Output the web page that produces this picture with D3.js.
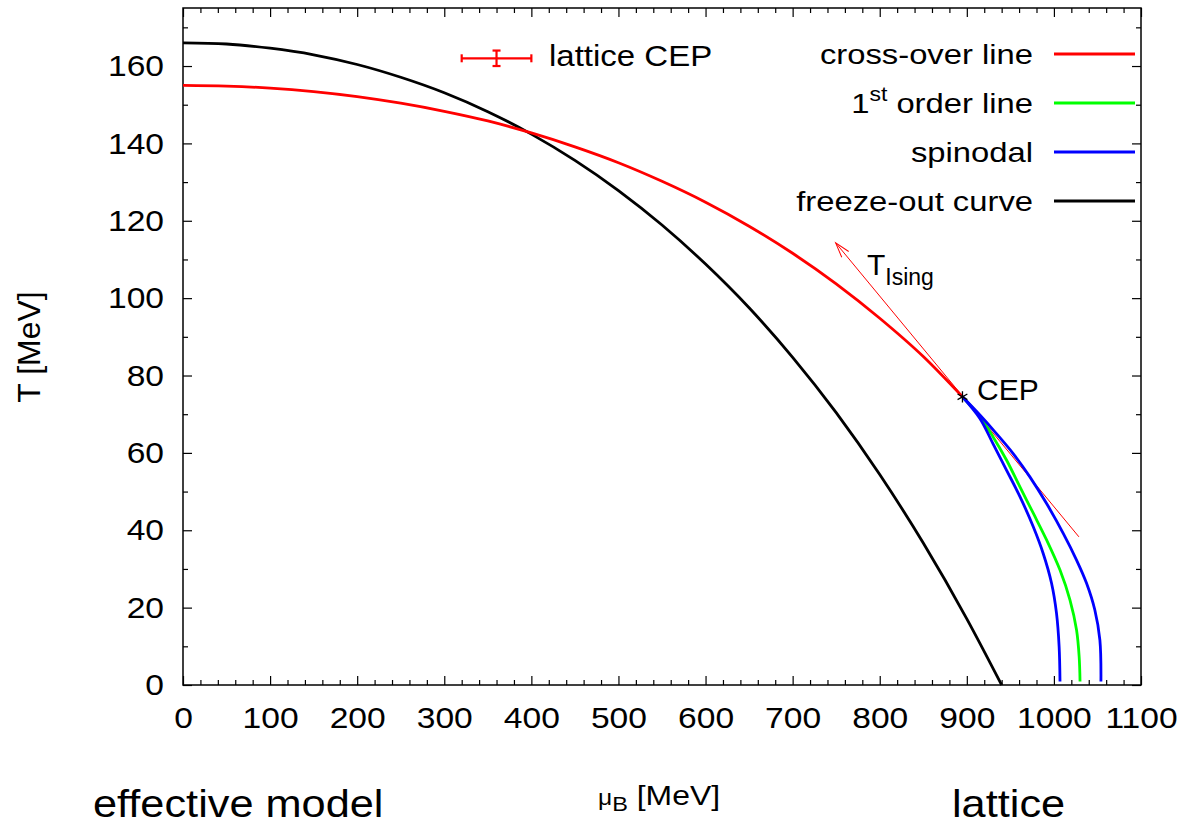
<!DOCTYPE html>
<html>
<head>
<meta charset="utf-8">
<script src="https://cdn.jsdelivr.net/npm/d3@7"></script>
<style>
  body { margin: 0; background: #fff; }
  svg text { font-family: "Liberation Sans", Arial, Helvetica, sans-serif; fill: #000; }
</style>
</head>
<body>
<div class="canvas"></div>
<script>
// values: [muB (MeV), T (MeV)]
let crossover = [
  [0, 155], [50, 154.8], [100, 154.3], [150, 153.4], [200, 152.1], [250, 150.4],
  [300, 148.3], [350, 145.8], [400, 142.7], [450, 139.1], [500, 135.0], [550, 130.2],
  [600, 124.8], [650, 118.6], [700, 111.6], [750, 103.7], [800, 94.8], [850, 84.9], [895, 74.5]
]
let firstOrder = [
  [895, 74.5], [915, 69.3], [930, 64.2], [945.7, 58.1], [961, 51.2], [976.3, 44.4],
  [991.6, 37.5], [1007, 29.7], [1018.4, 22.0], [1026, 14.2], [1029, 7.3], [1030, 0.9]
]
let spinodalLow = [
  [895, 74.5], [915, 68.9], [930, 62.4], [945.7, 55.5], [961, 48.7], [976.3, 40.9],
  [987.7, 34.0], [997.3, 26.3], [1003, 18.5], [1006, 9.9], [1007, 0.9]
]
let spinodalHigh = [
  [895, 74.5], [915, 69.8], [934, 65.0], [953, 59.9], [972.4, 53.8], [991.6, 46.9],
  [1010.7, 39.2], [1026, 32.3], [1037.5, 26.3], [1047, 19.4], [1052.8, 11.6], [1054, 0.9]
]
let freezeOut = [
  [0, 166], [50, 165.7], [100, 164.6], [150, 162.9], [200, 160.4], [250, 157.1],
  [300, 153.1], [350, 148.2], [400, 142.4], [450, 135.6], [500, 127.8], [550, 118.9],
  [600, 108.8], [650, 97.5], [700, 84.7], [750, 70.4], [800, 54.4], [850, 36.7],
  [900, 17.1], [940, 0]
]
let cep = [895, 74.5]
let latticeCep = { mu: 360, T: 162, dMu: 40, dT: 2 }
let isingArrow = [[1028.7, 38.3], [749.4, 114.3]]

let xMajor = [0, 100, 200, 300, 400, 500, 600, 700, 800, 900, 1000, 1100]
let yMajor = [0, 20, 40, 60, 80, 100, 120, 140, 160]
let xMinor = d3.range(0, 1101, 20).filter(v => v % 100 !== 0)
let yMinor = d3.range(10, 175, 20)

let legendItems = [
  { key: 'cross-over line', color: '#ff0000' },
  { key: '1st order line', color: '#00ff00' },
  { key: 'spinodal', color: '#0000ff' },
  { key: 'freeze-out curve', color: '#000000' }
]

///////////////////////
// SET UP
///////////////////////

let width = 1183,
    height = 825,
    plotLeft = 183, plotRight = 1141,
    plotTop = 8, plotBottom = 685,
    tickStretch = 1.12   // the original postscript font runs a bit wide

let svg = d3.select('.canvas').append('svg')
    .attr('width', width)
    .attr('height', height)

let x = d3.scaleLinear().domain([0, 1100]).range([plotLeft, plotRight])
let y = d3.scaleLinear().domain([0, 175]).range([plotBottom, plotTop])

// text placed at (tx, ty) and widened by sx
function label(tx, ty, size, sx, anchor) {
    return svg.append('text')
        .attr('transform', `translate(${tx},${ty}) scale(${sx},1)`)
        .attr('font-size', size)
        .attr('text-anchor', anchor || 'start')
}

///////////////////////
// AXES (gnuplot style, inward ticks on all sides)
///////////////////////

function addAxis(axisFn, scale, values, size, pos, labels) {
    let a = axisFn(scale).tickValues(values).tickSizeInner(-size).tickSizeOuter(0)
    if (labels) {
        a.tickPadding(axisFn === d3.axisBottom ? 22 : 19 / tickStretch).tickFormat(d3.format('d'))
    } else {
        a.tickFormat('')
    }
    let g = svg.append('g').attr('transform', pos).call(a)
    g.select('.domain').remove()
    g.selectAll('line').attr('stroke', '#000').attr('stroke-width', 1.2)
    g.selectAll('text')
        .attr('font-size', 30)
        .attr('transform', `scale(${tickStretch},1)`)
    g.attr('font-family', null).attr('font-size', null)
    return g
}

addAxis(d3.axisBottom, x, xMajor, 9, `translate(0,${plotBottom})`, true)
addAxis(d3.axisBottom, x, xMinor, 5, `translate(0,${plotBottom})`, false)
addAxis(d3.axisTop, x, xMajor, 9, `translate(0,${plotTop})`, false)
addAxis(d3.axisTop, x, xMinor, 5, `translate(0,${plotTop})`, false)
addAxis(d3.axisLeft, y, yMajor, 9, `translate(${plotLeft},0)`, true)
addAxis(d3.axisLeft, y, yMinor, 5, `translate(${plotLeft},0)`, false)
addAxis(d3.axisRight, y, yMajor, 9, `translate(${plotRight},0)`, false)
addAxis(d3.axisRight, y, yMinor, 5, `translate(${plotRight},0)`, false)

svg.append('rect')
    .attr('x', plotLeft).attr('y', plotTop)
    .attr('width', plotRight - plotLeft).attr('height', plotBottom - plotTop)
    .attr('fill', 'none').attr('stroke', '#000').attr('stroke-width', 1.5)

// axis labels
let xl = label(598, 805, 28.5, 1.12)
xl.append('tspan').attr('font-size', 22).text('μ')
xl.append('tspan').attr('font-size', 21).attr('dy', 6).text('B')
xl.append('tspan').attr('dy', -6).text(' [MeV]')

svg.append('text')
    .attr('transform', `translate(40,347) rotate(-90)`)
    .attr('text-anchor', 'middle')
    .attr('font-size', 32)
    .text('T [MeV]')

///////////////////////
// CURVES
///////////////////////

let line = d3.line()
    .x(d => x(d[0]))
    .y(d => y(d[1]))
    .curve(d3.curveMonotoneX)

// the 1st order line and spinodals bend round to vertical near T = 0
let lineT = d3.line()
    .x(d => x(d[0]))
    .y(d => y(d[1]))
    .curve(d3.curveCatmullRom.alpha(0.5))

let plot = svg.append('g')

plot.append('path').datum(freezeOut)
    .attr('d', line).attr('fill', 'none').attr('stroke', '#000').attr('stroke-width', 2.8)
plot.append('path').datum(crossover)
    .attr('d', line).attr('fill', 'none').attr('stroke', '#ff0000').attr('stroke-width', 2.8)

// T_Ising direction arrow
svg.append('defs').append('marker')
    .attr('id', 'head')
    .attr('markerUnits', 'userSpaceOnUse')
    .attr('viewBox', '-16 -6 18 12')
    .attr('markerWidth', 18).attr('markerHeight', 12)
    .attr('refX', 0).attr('refY', 0)
    .attr('orient', 'auto')
  .append('path')
    .attr('d', 'M-15,-4.5L0,0L-15,4.5')
    .attr('fill', 'none').attr('stroke', '#ff0000').attr('stroke-width', 1)

plot.append('line')
    .attr('x1', x(isingArrow[0][0])).attr('y1', y(isingArrow[0][1]))
    .attr('x2', x(isingArrow[1][0])).attr('y2', y(isingArrow[1][1]))
    .attr('stroke', '#ff0000').attr('stroke-width', 1)
    .attr('marker-end', 'url(#head)')

plot.append('path').datum(firstOrder)
    .attr('d', lineT).attr('fill', 'none').attr('stroke', '#00ff00').attr('stroke-width', 2.8)
plot.append('path').datum(spinodalLow)
    .attr('d', lineT).attr('fill', 'none').attr('stroke', '#0000ff').attr('stroke-width', 2.8)
plot.append('path').datum(spinodalHigh)
    .attr('d', lineT).attr('fill', 'none').attr('stroke', '#0000ff').attr('stroke-width', 2.8)

// CEP star
plot.append('path')
    .attr('d', d3.symbol(d3.symbolAsterisk, 90)())
    .attr('transform', `translate(${x(cep[0])},${y(cep[1])})`)
    .attr('fill', 'none').attr('stroke', '#000').attr('stroke-width', 1.3)

label(977, 400, 30, 1).text('CEP')

let ti = label(867, 275, 30, 1)
ti.append('tspan').text('T')
ti.append('tspan').attr('font-size', 23).attr('dy', 10).text('Ising')

// lattice CEP with error bars
let lc = plot.append('g').attr('stroke', '#ff0000').attr('stroke-width', 2.2)
lc.append('line')
    .attr('x1', x(latticeCep.mu - latticeCep.dMu)).attr('x2', x(latticeCep.mu + latticeCep.dMu))
    .attr('y1', y(latticeCep.T)).attr('y2', y(latticeCep.T))
lc.append('line')
    .attr('x1', x(latticeCep.mu)).attr('x2', x(latticeCep.mu))
    .attr('y1', y(latticeCep.T - latticeCep.dT)).attr('y2', y(latticeCep.T + latticeCep.dT))
;[latticeCep.mu - latticeCep.dMu, latticeCep.mu + latticeCep.dMu].forEach(m => {
    lc.append('line')
        .attr('x1', x(m)).attr('x2', x(m))
        .attr('y1', y(latticeCep.T) - 4).attr('y2', y(latticeCep.T) + 4)
})
;[latticeCep.T - latticeCep.dT, latticeCep.T + latticeCep.dT].forEach(t => {
    lc.append('line')
        .attr('x1', x(latticeCep.mu) - 4).attr('x2', x(latticeCep.mu) + 4)
        .attr('y1', y(t)).attr('y2', y(t))
})
label(549, 66, 30, 1.1).text('lattice CEP')

///////////////////////
// LEGEND
///////////////////////

legendItems.forEach((d, i) => {
    let ly = 54 + i * 49
    svg.append('line')
        .attr('x1', 1054).attr('x2', 1135)
        .attr('y1', ly).attr('y2', ly)
        .attr('stroke', d.color).attr('stroke-width', 2.8)
    let t = label(1033, ly + 10, 28.5, 1.15, 'end')
    if (d.key.startsWith('1st')) {
        t.append('tspan').text('1')
        t.append('tspan').attr('font-size', 20).attr('dy', -12).text('st')
        t.append('tspan').attr('dy', 12).text(' order line')
    } else {
        t.text(d.key)
    }
})

// region labels under the plot
label(93, 817, 38, 1.14).text('effective model')
label(952, 817, 38, 1.14).text('lattice')
</script>
</body>
</html>
